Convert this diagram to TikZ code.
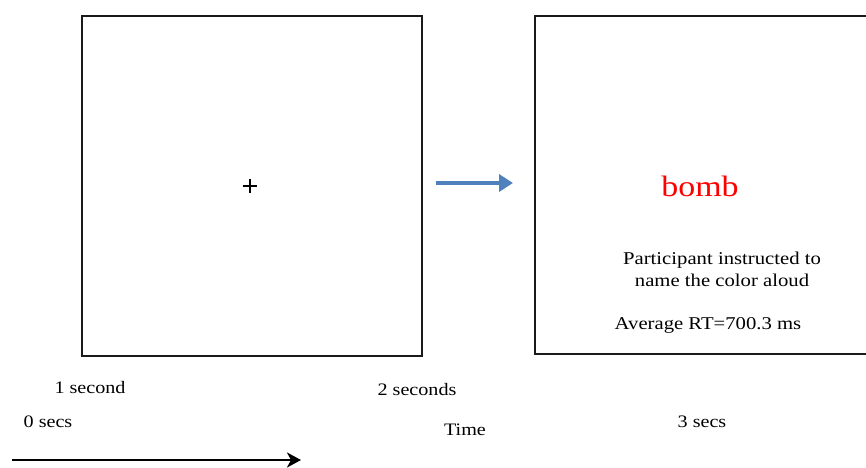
\documentclass[tikz,border=0pt]{standalone}
\usepackage{fontspec}
\setmainfont{Liberation Serif}[FakeStretch=1.15]
\usetikzlibrary{arrows.meta}
\definecolor{arrowblue}{HTML}{4F81BD}
\definecolor{bombred}{HTML}{FF0000}
\definecolor{framegray}{HTML}{1A1A1A}
\begin{document}
\begin{tikzpicture}[x=1pt,y=-1pt,
  screen/.style={draw=framegray,line width=2.4pt,fill=white},
  lab/.style={font=\fontsize{17.5}{20}\selectfont,text=black,inner sep=0pt},
  small/.style={font=\fontsize{18}{22}\selectfont,text=black,inner sep=0pt,align=center}]
\useasboundingbox (0,0) rectangle (866,467);
\clip (0,0) rectangle (866,467);
% frames
\draw[screen] (82,16) rectangle (422,356);
\draw[screen] (535,16) rectangle (880,354);
% fixation cross
\coordinate (plusc) at (250,186);
\draw[black,line width=2.4pt] ([xshift=-7pt]plusc) -- ([xshift=7pt]plusc)
  ([yshift=-7pt]plusc) -- ([yshift=7pt]plusc);
% blue arrow
\coordinate (ba) at (436,183);
\coordinate (bb) at (513,183);
\draw[arrowblue,line width=4pt,-{Triangle[length=14pt,width=17pt]}] (ba) -- (bb);
% second screen text
\node[inner sep=0pt,text=bombred,font=\fontsize{29.5}{30}\selectfont] (bomb) at (700,186) {bomb};
\node[small] (instr) at (722,269) {Participant instructed to\\name the color aloud};
\node[small] (rt) at (708,325) {Average RT=700.3 ms};
% time labels
\node[lab] (one) at (90,388) {1 second};
\node[lab] (two) at (417,390) {2 seconds};
\node[lab] (zero) at (48,422) {0 secs};
\node[lab] (time) at (465,430) {Time};
\node[lab] (three) at (702,422) {3 secs};
% black arrow
\coordinate (ka) at (12,460);
\coordinate (kb) at (301,460);
\draw[black,line width=2.6pt,-{Stealth[length=14pt,width=15pt,inset=4pt]}] (ka) -- (kb);
\end{tikzpicture}
\end{document}
